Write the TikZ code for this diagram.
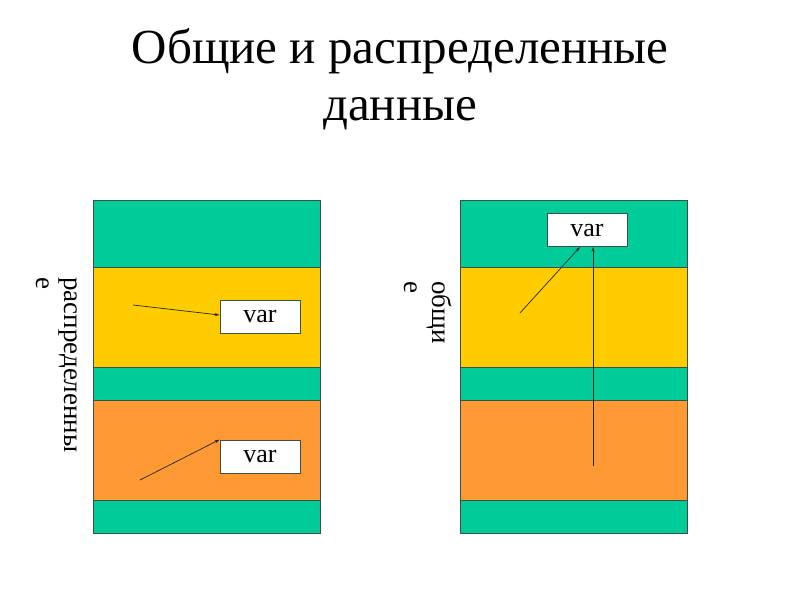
\documentclass[tikz,border=0pt]{standalone}
\usepackage{fontspec}
\setmainfont{Liberation Serif}
\usetikzlibrary{arrows.meta}
\definecolor{bandgreen}{RGB}{0,204,153}
\definecolor{bandyellow}{RGB}{255,204,0}
\definecolor{bandorange}{RGB}{255,153,51}
\definecolor{edgegray}{RGB}{60,80,70}
\begin{document}
\begin{tikzpicture}[x=1pt,y=-1pt,
  band/.style={draw=edgegray, line width=0.8pt},
  varbox/.style={draw=edgegray, fill=white, line width=0.8pt, minimum width=80pt, minimum height=33pt, inner sep=0pt, font=\fontsize{26}{28}\selectfont},
  ptr/.style={-{Stealth[length=5pt,width=3pt]}, line width=0.7pt, draw=black!85},
  vlabel/.style={rotate=-90, anchor=north west, align=left, inner sep=0pt, font=\fontsize{27}{28}\selectfont}]
\useasboundingbox (0,0) rectangle (800,600);
\node (title) at (400,79) [align=center, font=\fontsize{49}{57}\selectfont] {Общие и распределенные\\данные};
\foreach \x/\n in {93/L,460/R}{
  \fill[bandgreen] (\x,200) rectangle ++(227,67);
  \draw[band] (\x,200) rectangle ++(227,67);
  \fill[bandyellow] (\x,267) rectangle ++(227,100);
  \draw[band] (\x,267) rectangle ++(227,100);
  \fill[bandgreen] (\x,367) rectangle ++(227,33);
  \draw[band] (\x,367) rectangle ++(227,33);
  \fill[bandorange] (\x,400) rectangle ++(227,100);
  \draw[band] (\x,400) rectangle ++(227,100);
  \fill[bandgreen] (\x,500) rectangle ++(227,33);
  \draw[band] (\x,500) rectangle ++(227,33);
}
\node[varbox] (v1) at (260,316.5) {var};
\node[varbox] (v2) at (260,456.5) {var};
\node[varbox] (v3) at (587,230) {var};
\coordinate (s1) at (133,305);
\coordinate (s2) at (140,480);
\coordinate (s3) at (520,313);
\coordinate (s4) at (593,466);
\draw[ptr] (s1) -- (v1.west |- 0,315);
\draw[ptr] (s2) -- (v2.north west);
\draw[ptr] (s3) -- (580,247);
\draw[ptr] (s4) -- (s4 |- v3.south);
\node[vlabel] (lab1) at (77,277) {распределенны\\е};
\node[vlabel] (lab2) at (452,281) {общи\\е};
\end{tikzpicture}
\end{document}
